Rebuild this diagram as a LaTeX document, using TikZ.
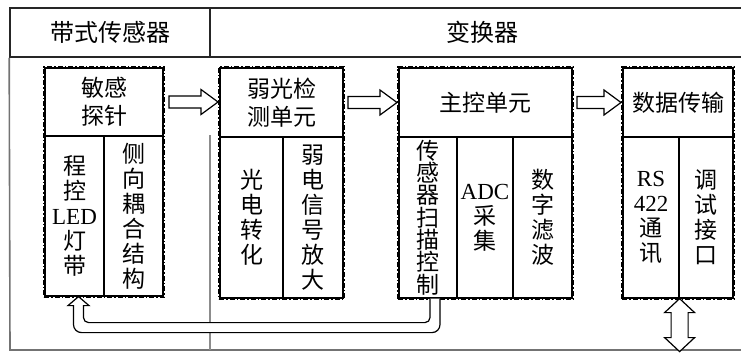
\documentclass[tikz,border=0pt]{standalone}
\usepackage{fontspec}
\setmainfont{Liberation Serif}
\newfontfamily\cjk{Noto Sans CJK SC}
\usetikzlibrary{calc,fit}
\newcommand\mytight{\lineskiplimit=-30pt\lineskip=0pt\relax}
\newcommand\mkharrow[2]{\draw[blockarr] let \p1=(#1), \p2=(#2) in
  (\x1,\y1+6pt) -- (\x2-17pt,\y1+6pt) -- (\x2-17pt,\y1+12.5pt) -- (\x2,\y1)
  -- (\x2-17pt,\y1-12.5pt) -- (\x2-17pt,\y1-6pt) -- (\x1,\y1-6pt) -- cycle;}
\begin{document}
\begin{tikzpicture}[x=1pt,y=-1pt,
  hdr/.style={draw=black!85, line width=1.6pt, rectangle, inner sep=0pt,
    font={\cjk\fontsize{24}{28}\selectfont}},
  cell/.style={draw=black, line width=1.2pt, rectangle, inner sep=0pt, align=center,
    font={\cjk\fontsize{23}{25}\selectfont\mytight}},
  twoline/.style={cell, font={\cjk\fontsize{23}{28}\selectfont\mytight}},
  dense/.style={cell, font={\cjk\fontsize{23}{22.3}\selectfont\mytight}},
  dframe/.style={draw=black, line width=2pt, dash pattern=on 5pt off 2pt on 1.5pt off 2pt, inner sep=0.4pt},
  blockarr/.style={draw=black, fill=white, line width=1.2pt, line join=miter},
  framegray/.style={draw=black!55, line width=1.6pt},
  divgray/.style={draw=black!45, line width=1.6pt}]
\useasboundingbox (0,0) rectangle (741,353);
% header row
\node[hdr, minimum width=200pt, minimum height=49pt] (hL) at (110,32.5) {带式传感器};
\node[hdr, minimum width=544pt, minimum height=49pt] (hR) at (482,32.5) {变换器};
% body frame
\coordinate (fbl) at (10,350);
\coordinate (fbr) at (760,350);
\draw[framegray] (hL.south west) -- (fbl) -- (fbr);
\coordinate (vt) at (210,135);
\coordinate (vb) at (210,350);
\draw[divgray] (vt) -- (vb);
% box 1
\node[twoline, minimum width=118pt, minimum height=68pt] (h1) at (104,102) {敏感\\探针};
\node[cell, minimum width=59pt, minimum height=160pt] (c11) at (74.5,216) {程\\控\\{\rmfamily LED}\\灯\\带};
\node[cell, minimum width=59pt, minimum height=160pt] (c12) at (133.5,216) {侧\\向\\耦\\合\\结\\构};
% box 2
\node[twoline, minimum width=123pt, minimum height=69pt] (h2) at (281.5,102.5) {弱光检\\测单元};
\node[cell, minimum width=63pt, minimum height=161pt] (c21) at (251.5,217.5) {光\\电\\转\\化};
\node[cell, minimum width=60pt, minimum height=161pt] (c22) at (313,217.5) {弱\\电\\信\\号\\放\\大};
% box 3
\node[cell, minimum width=173pt, minimum height=69pt] (h3) at (485.5,102.5) {主控单元};
\node[dense, minimum width=58pt, minimum height=161pt] (c31) at (428,217.5) {传\\感\\器\\扫\\描\\控\\制};
\node[cell, minimum width=56pt, minimum height=161pt] (c32) at (485,217.5) {{\rmfamily ADC}\\采\\集};
\node[cell, minimum width=59pt, minimum height=161pt] (c33) at (542.5,217.5) {数\\字\\滤\\波};
% box 4
\node[cell, minimum width=110pt, minimum height=69pt] (h4) at (678,102.5) {数据传输};
\node[cell, minimum width=56pt, minimum height=161pt] (c41) at (651,217.5) {{\rmfamily RS}\\{\rmfamily 422}\\通\\讯};
\node[cell, minimum width=54pt, minimum height=161pt] (c42) at (706,217.5) {调\\试\\接\\口};
% dash-dot frames
\node[dframe, fit=(h1)(c11)(c12)] (g1) {};
\node[dframe, fit=(h2)(c21)(c22)] (g2) {};
\node[dframe, fit=(h3)(c31)(c32)(c33)] (g3) {};
\node[dframe, fit=(h4)(c41)(c42)] (g4) {};
% block arrows
\coordinate (a1s) at ($(g1.east |- h1.center)+(4,0)$);
\coordinate (a1e) at (g2.west |- h1.center);
\coordinate (a2s) at ($(g2.east |- h2.center)+(3,0)$);
\coordinate (a2e) at (g3.west |- h2.center);
\coordinate (a3s) at ($(g3.east |- h3.center)+(3,0)$);
\coordinate (a3e) at (g4.west |- h3.center);
\mkharrow{a1s}{a1e}
\mkharrow{a2s}{a2e}
\mkharrow{a3s}{a3e}
% return arrow
\coordinate (rs) at ($(c31.south)+(7,0)$);
\coordinate (rt) at ($(c11.south)+(4,0)$);
\draw[blockarr] let \p1=(rs), \p2=(rt) in
  (\x1+5pt,\y1) [rounded corners=8pt] -- (\x1+5pt,\y1-34pt) -- (\x2-5pt,\y1-34pt)
  [sharp corners] -- (\x2-5pt,\y2-9pt) -- (\x2-10.5pt,\y2-9pt) -- (\x2,\y2)
  -- (\x2+10.5pt,\y2-9pt) -- (\x2+5pt,\y2-9pt)
  [rounded corners=5pt] -- (\x2+5pt,\y1-24pt) -- (\x1-5pt,\y1-24pt)
  [sharp corners] -- (\x1-5pt,\y1);
% bidirectional arrow
\draw[blockarr] let \p1=(c41.south east) in
  (\x1,\y1) -- (\x1+15pt,\y1-14pt) -- (\x1+8.5pt,\y1-14pt) -- (\x1+8.5pt,\y1-39pt)
  -- (\x1+15pt,\y1-39pt) -- (\x1,\y1-53pt) -- (\x1-15pt,\y1-39pt) -- (\x1-8.5pt,\y1-39pt)
  -- (\x1-8.5pt,\y1-14pt) -- (\x1-15pt,\y1-14pt) -- cycle;
\end{tikzpicture}
\end{document}
